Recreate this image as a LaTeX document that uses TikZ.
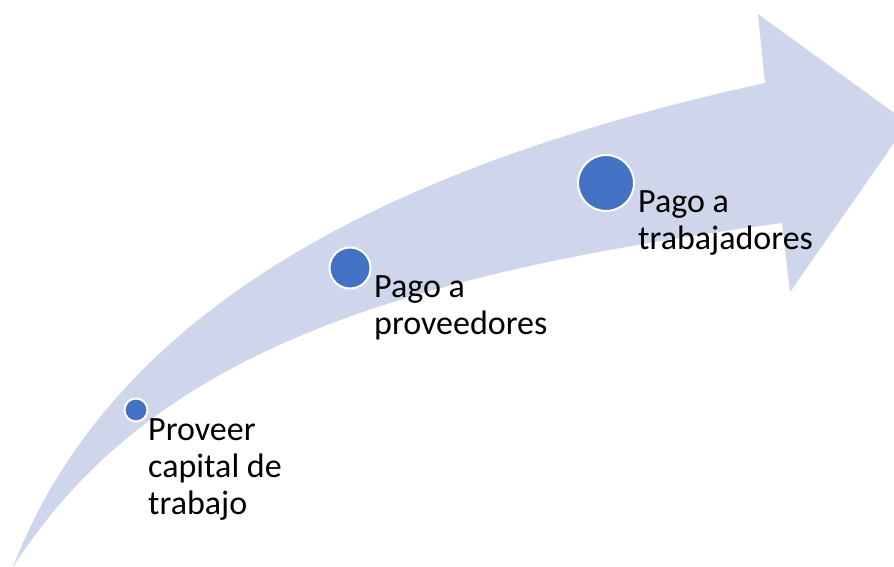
\documentclass[tikz,border=0pt]{standalone}
\usepackage{fontspec}
\setmainfont{Carlito}
\definecolor{band}{HTML}{CFD5EA}
\definecolor{dot}{HTML}{4472C4}
\begin{document}
\begin{tikzpicture}[x=1pt,y=-1pt,
  dotstyle/.style={circle,fill=dot,draw=white,line width=2pt,inner sep=0pt},
  lbl/.style={anchor=base west,align=left,inner sep=0pt,font=\fontsize{34}{37}\selectfont,text=black}]
\useasboundingbox (0,0) rectangle (894,567);
\clip (0,0) rectangle (894,567);
\coordinate (tail) at (13,567);
\coordinate (shafttop) at (765,83);
\coordinate (headtop) at (758,14);
\coordinate (tip) at (908,123);
\coordinate (headbot) at (790,292);
\coordinate (shaftbot) at (782,223);
\fill[band] (tail) .. controls (121,287) and (433,156) .. (shafttop)
  -- (headtop) -- (tip) -- (headbot) -- (shaftbot)
  .. controls (386,276) and (148,357) .. (tail) -- cycle;
\node[dotstyle,minimum size=23pt] (d1) at (136,410) {};
\node[dotstyle,minimum size=41pt] (d2) at (350,268) {};
\node[dotstyle,minimum size=56pt] (d3) at (606,183) {};
\node[lbl] (t1) at (148,514) {Proveer\\capital de\\trabajo};
\node[lbl] (t2) at (374,334) {Pago a\\proveedores};
\node[lbl] (t3) at (638,249) {Pago a\\trabajadores};
\end{tikzpicture}
\end{document}
